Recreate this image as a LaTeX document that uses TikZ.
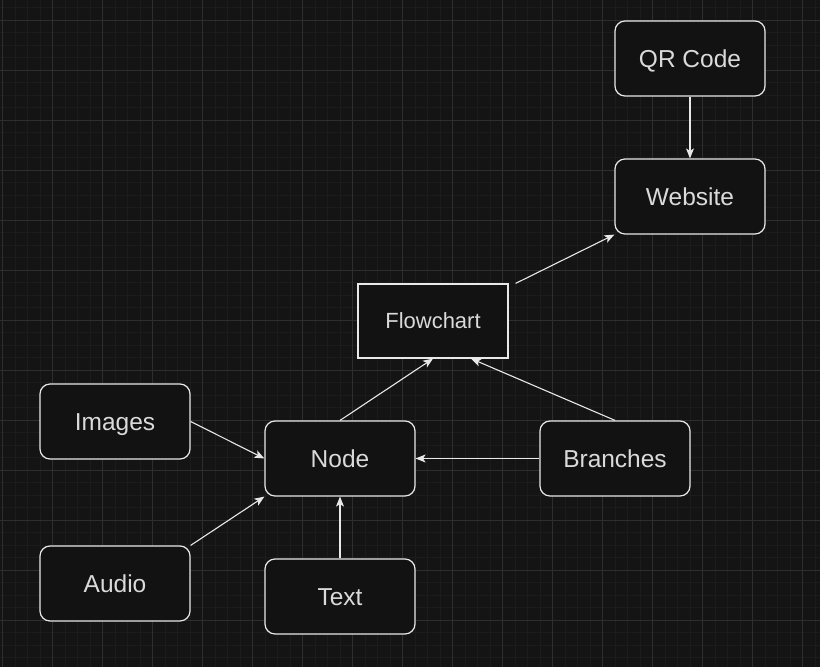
\documentclass[tikz,border=0pt]{standalone}
\usepackage{fontspec}
\setmainfont{Liberation Sans}
\usetikzlibrary{arrows.meta}
\definecolor{bg}{HTML}{141414}
\definecolor{gridminor}{HTML}{1C1C1C}
\definecolor{gridmajor}{HTML}{2E2E2E}
\definecolor{boxfill}{HTML}{121212}
\definecolor{stroke}{HTML}{E8E8E8}
\definecolor{txt}{HTML}{DADADA}
\tikzset{
  rbox/.style={draw=stroke, fill=boxfill, line width=1.2pt, rounded corners=10pt,
    minimum width=150pt, minimum height=75pt, inner sep=0pt, text=txt,
    text height=17.5pt, text depth=0pt,
    font=\fontsize{24.5}{28}\selectfont},
  sbox/.style={rbox, rounded corners=0pt, minimum height=74pt,
    text height=15.8pt, font=\fontsize{22}{26}\selectfont},
  conn/.style={draw=stroke, line width=1.1pt, -{Stealth[length=10pt,width=8pt,inset=2.5pt]}}
}
\begin{document}
\begin{tikzpicture}[x=1pt,y=-1pt]
\fill[bg] (0,0) rectangle (820,667);
\useasboundingbox (0,0) rectangle (820,667);
% minor grid
\foreach \i in {0,...,66} {
  \pgfmathsetmacro{\xx}{2.5+12.5*\i}
  \draw[gridminor, line width=1pt] (\xx,0) -- (\xx,667);
}
\foreach \i in {0,...,54} {
  \pgfmathsetmacro{\yy}{7.5+12.5*\i}
  \draw[gridminor, line width=1pt] (0,\yy) -- (820,\yy);
}
% major grid
\foreach \i in {0,...,16} {
  \pgfmathsetmacro{\xx}{2.5+50*\i}
  \draw[gridmajor, line width=1pt] (\xx,0) -- (\xx,667);
}
\foreach \i in {0,...,13} {
  \pgfmathsetmacro{\yy}{20+50*\i}
  \draw[gridmajor, line width=1pt] (0,\yy) -- (820,\yy);
}
% nodes
\node[rbox] (qr) at (690,58.5) {QR Code};
\node[rbox] (web) at (690,196.5) {Website};
\node[sbox] (fc) at (433,321) {Flowchart};
\node[rbox] (img) at (115,421.5) {Images};
\node[rbox] (nd) at (340,458.5) {Node};
\node[rbox] (br) at (615,458.5) {Branches};
\node[rbox] (au) at (115,583.5) {Audio};
\node[rbox] (tx) at (340,596.5) {Text};
% connectors
\draw[conn] (qr.south) -- (web.north);
\draw[conn] ([xshift=7pt]fc.north east) -- (web.south west);
\draw[conn] (nd.north) -- (fc.south);
\draw[conn] (br.north) -- ([xshift=38pt]fc.south);
\draw[conn] (br.west) -- (nd.east);
\draw[conn] (img.east) -- (nd.west);
\draw[conn] (au.north east) -- (nd.south west);
\draw[conn] (tx.north) -- (nd.south);
\end{tikzpicture}
\end{document}
